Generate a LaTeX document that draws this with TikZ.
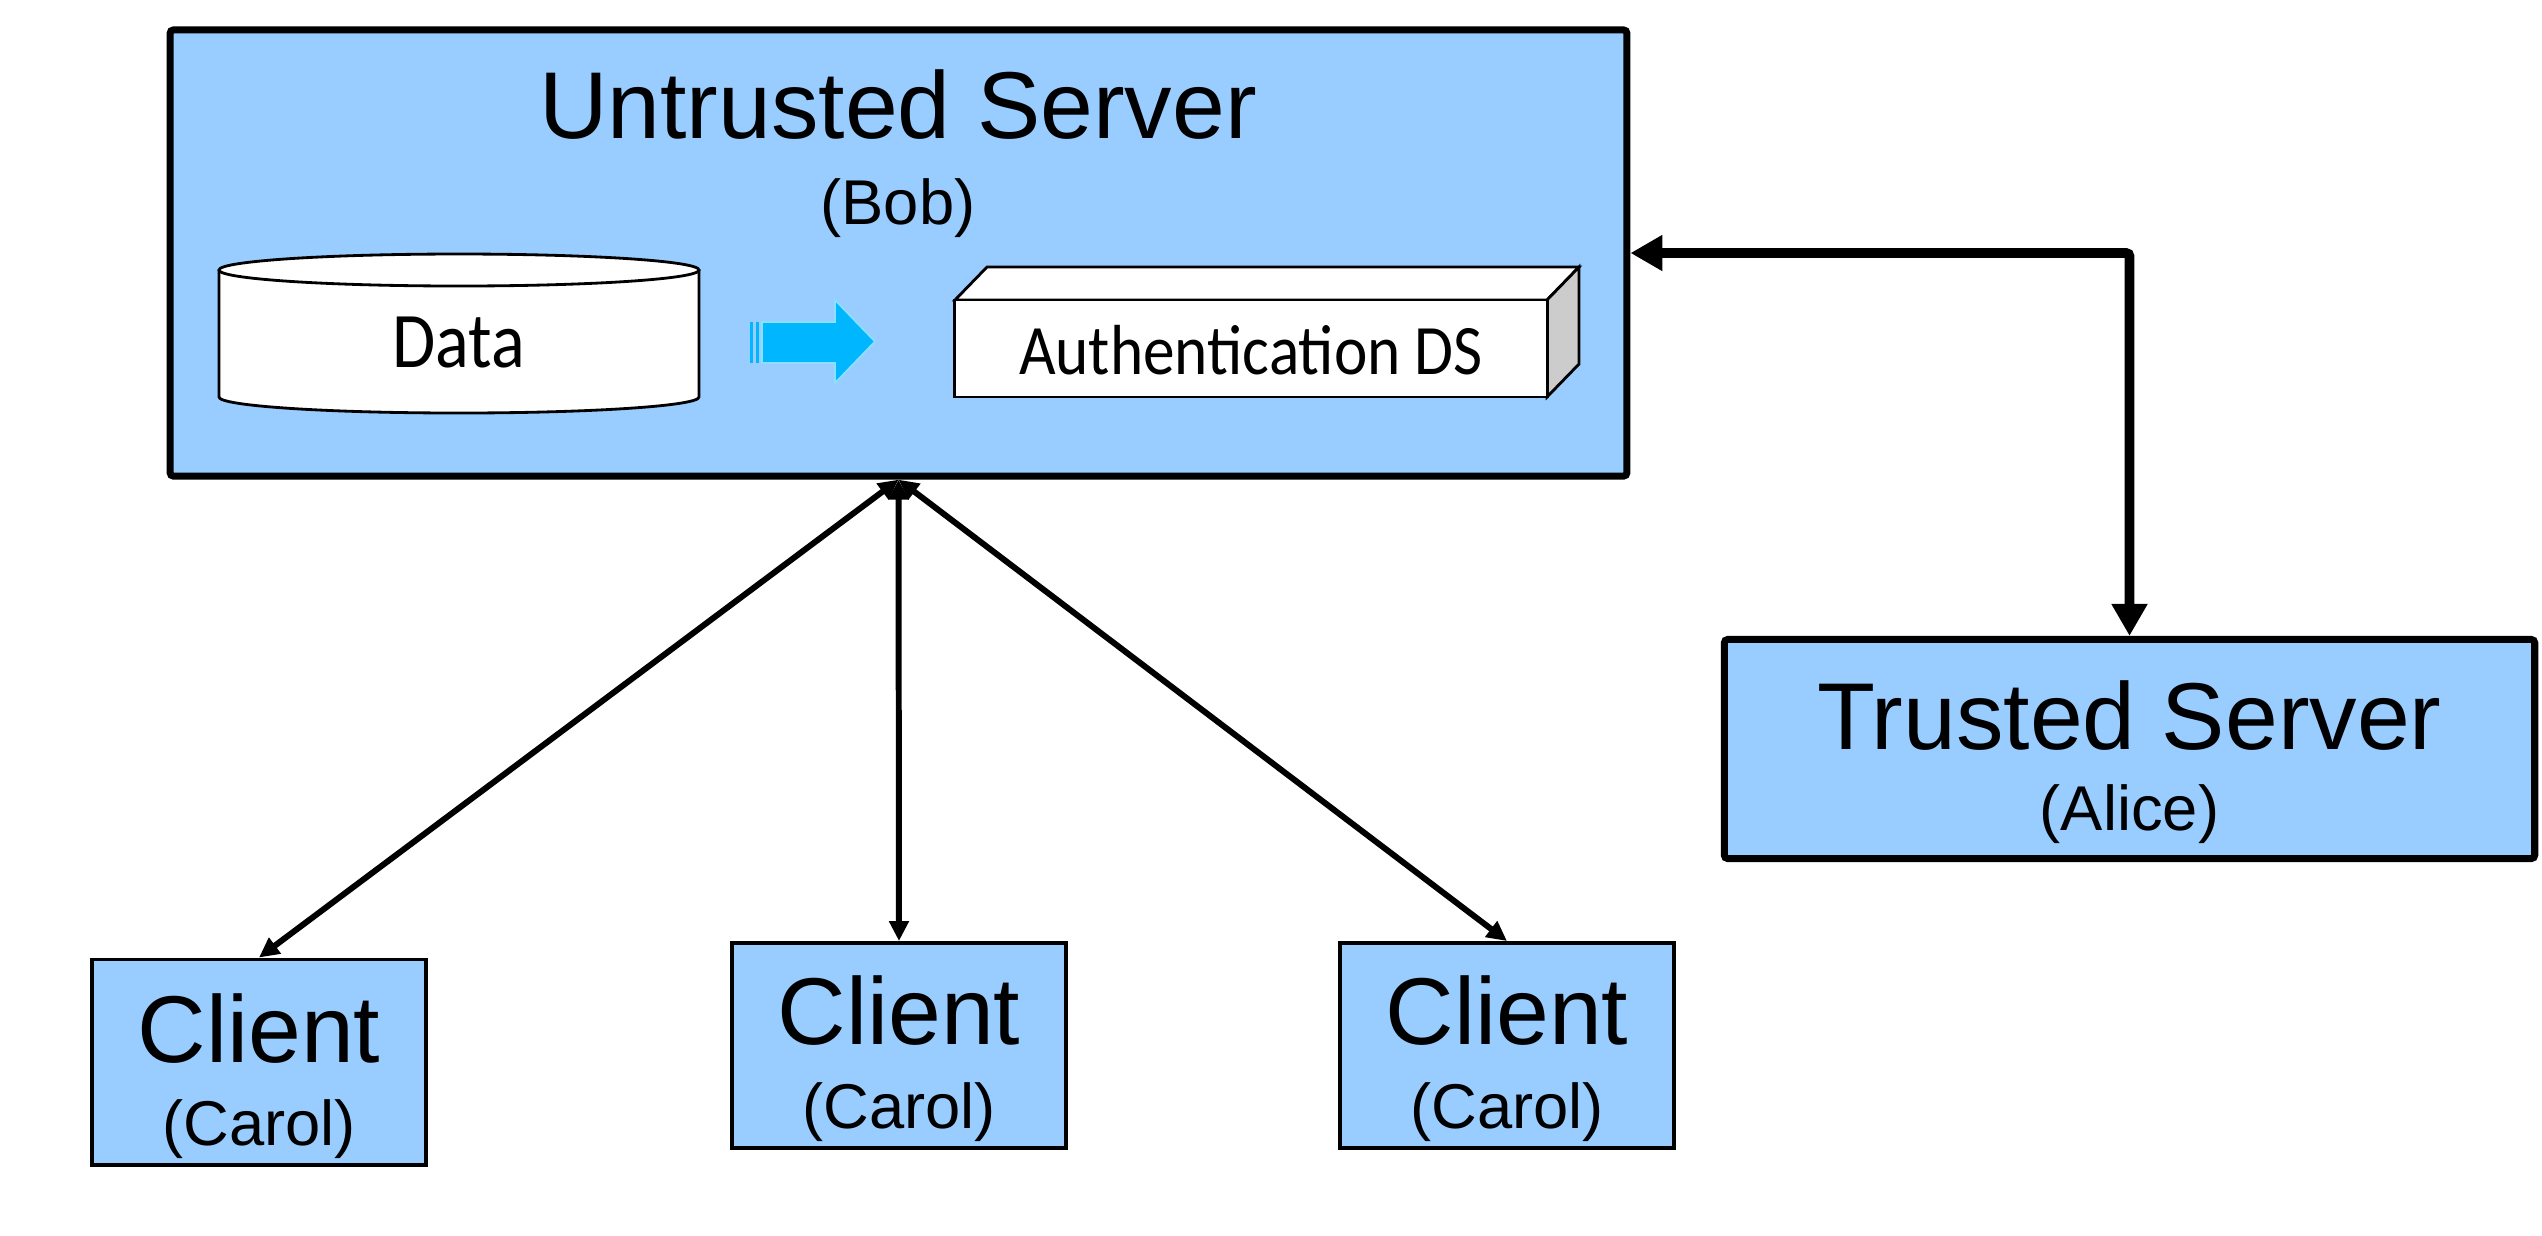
\documentclass[tikz,border=0pt]{standalone}
\usepackage{fontspec}
\setmainfont{Liberation Sans}
\newfontfamily\calibri{Carlito}
\usetikzlibrary{arrows.meta}

\definecolor{boxblue}{RGB}{153,204,255}
\definecolor{flowblue}{RGB}{0,183,255}
\definecolor{sidegray}{RGB}{204,204,204}

\tikzset{
  server/.style={draw, line width=2pt, fill=boxblue, inner sep=0pt, rounded corners=1pt},
  client/.style={draw, line width=1.1pt, fill=boxblue, inner sep=0pt,
    minimum width=3.33cm, minimum height=2.05cm},
  bigname/.style={anchor=base, inner sep=0pt, font=\fontsize{27}{32}\selectfont},
  smallname/.style={anchor=base, inner sep=0pt, font=\fontsize{18}{22}\selectfont},
  store/.style={anchor=base, inner sep=0pt, font=\calibri\fontsize{20}{24}\selectfont},
  link/.style={{Triangle[length=0.2cm,width=0.19cm]}-{Triangle[length=0.2cm,width=0.19cm]},
    line width=1.7pt},
  trustlink/.style={{Triangle[length=0.32cm,width=0.34cm]}-{Triangle[length=0.32cm,width=0.34cm]},
    line width=2.8pt, rounded corners=1pt}
}

\begin{document}
\begin{tikzpicture}[x=0.01cm,y=-0.01cm]
\useasboundingbox (0,0) rectangle (2542,1235);

% untrusted server
\node[server, minimum width=14.56cm, minimum height=4.46cm] (untr) at (898.5,253) {};
\node[bigname] (untrname) at (898,138) {Untrusted Server};
\node[smallname] (untrwho) at (898,224) {(Bob)};

% data store
\draw[fill=white, line width=0.8pt] (219,270) -- (219,397)
  arc[start angle=180, end angle=0, x radius=240, y radius=16] -- (699,270);
\draw[fill=white, line width=0.8pt] (459,270) ellipse[x radius=240, y radius=16];
\node[store] (data) at (459,367) {\scalebox{1}[1.12]{Data}};

% flow arrow
\filldraw[fill=flowblue, draw=white!55!flowblue, line width=0.5pt]
  (762,322) -- (835,322) -- (835,300) -- (875,341.5) -- (835,383) -- (835,363) -- (762,363) -- cycle;
\fill[flowblue] (750,322) rectangle (753,363);
\fill[flowblue] (756,322) rectangle (759,363);

% authentication structure
\draw[fill=white, line width=0.8pt] (955,300) -- (987,267) -- (1579,267) -- (1547,300) -- cycle;
\draw[fill=sidegray, line width=0.8pt] (1547,300) -- (1579,267) -- (1579,364) -- (1547,397) -- cycle;
\node[draw, fill=white, line width=0.8pt, inner sep=0pt,
  minimum width=5.92cm, minimum height=0.97cm] (auth) at (1251,348.5) {};
\node[anchor=base, inner sep=0pt, font=\calibri\fontsize{18}{22}\selectfont]
  (authname) at (1251,374) {\scalebox{1}[1.12]{Authentication DS}};

% trusted server
\node[server, minimum width=8.1cm, minimum height=2.19cm] (trust) at (2129.5,749) {};
\node[bigname] (trustname) at (2129.5,749) {Trusted Server};
\node[smallname] (trustwho) at (2129.5,830) {(Alice)};

% clients
\node[client] (c1) at (259,1062) {};
\node[bigname] (c1name) at (259,1062) {Client};
\node[smallname] (c1who) at (259,1145) {(Carol)};

\node[client] (c2) at (899,1045.5) {};
\node[bigname] (c2name) at (899,1044) {Client};
\node[smallname] (c2who) at (899,1128) {(Carol)};

\node[client] (c3) at (1507,1045.5) {};
\node[bigname] (c3name) at (1507,1044) {Client};
\node[smallname] (c3who) at (1507,1128) {(Carol)};

% connections
\draw[link] (untr.south) -- (c1.north);
\draw[link] (untr.south) -- (c2.north);
\draw[link] (untr.south) -- (c3.north);
\draw[trustlink] (untr.east) -| (trust.north);

\end{tikzpicture}
\end{document}
